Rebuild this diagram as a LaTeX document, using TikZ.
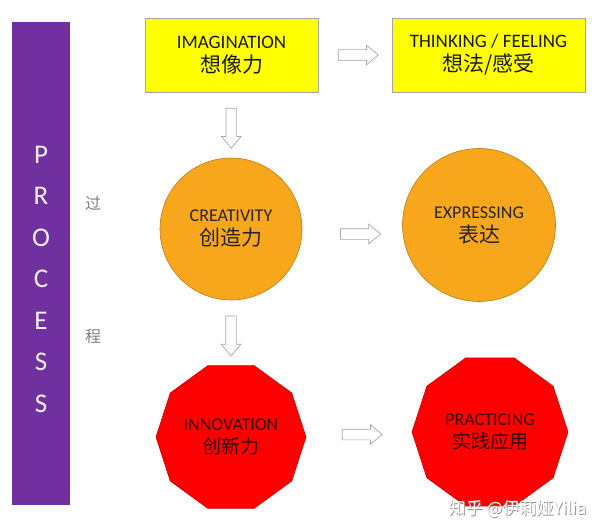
\documentclass[tikz,border=0pt]{standalone}
\usepackage{fontspec}
\setmainfont{Carlito}
\newfontfamily\cjk{Noto Sans CJK SC}
\usepackage{xcolor}
\definecolor{procpurple}{HTML}{7030A0}
\definecolor{procyellow}{HTML}{FFFF00}
\definecolor{procorange}{HTML}{F8A71D}
\definecolor{procred}{HTML}{FF0000}
\definecolor{procgrey}{HTML}{A6A6A6}
\usetikzlibrary{shapes.geometric, shapes.arrows, calc}

\begin{document}
\begin{tikzpicture}[x=1pt, y=-1pt,
  stagebox/.style={rectangle, draw=procgrey, fill=procyellow, line width=0.8pt,
    minimum height=74pt, align=center, inner sep=0pt, text=black!90,
    font=\fontsize{19}{24}\selectfont},
  stagecircle/.style={circle, draw=procorange!75!black, fill=procorange,
    line width=0.6pt, align=center, inner sep=0pt, text=black!85,
    font=\fontsize{18}{24}\selectfont},
  stagepoly/.style={regular polygon, regular polygon sides=10,
    draw=procred!80!black, fill=procred, line width=0.6pt, align=center,
    inner sep=0pt, text=black!80!red, font=\fontsize{18}{23}\selectfont},
  flowarrow/.style={single arrow, draw=procgrey, fill=white, line width=0.7pt,
    inner sep=5pt, minimum height=40pt, single arrow head extend=4.5pt,
    single arrow tip angle=80}
]
\useasboundingbox (0,0) rectangle (600,524);

% process bar
\node[rectangle, fill=procpurple, minimum width=58pt, minimum height=483pt,
      inner sep=0pt] (bar) at (41,263.5) {};
\node[align=center, text=white!92!procpurple,
      font=\fontsize{27}{41.5}\selectfont] (process) at (41,279) {P\\R\\O\\C\\E\\S\\S};
\node[text=gray, font=\cjk\fontsize{16}{16}\selectfont] (guo) at (93,203) {过};
\node[text=gray, font=\cjk\fontsize{16}{16}\selectfont] (cheng) at (93,337) {程};

% top row
\node[stagebox, minimum width=173pt] (imagination) at (231.5,55) {
  IMAGINATION\\{\cjk\fontsize{21}{24}\selectfont 想像力}};
\node[stagebox, minimum width=193pt] (thinking) at (488.5,55) {
  THINKING / FEELING\\{\cjk\fontsize{21}{24}\selectfont 想法/感受}};

% middle row
\node[stagecircle, minimum size=142pt] (creativity) at (231,229) {
  CREATIVITY\\{\cjk\fontsize{21}{24}\selectfont 创造力}};
\node[stagecircle, minimum size=153pt] (expressing) at (479,225) {
  EXPRESSING\\{\cjk\fontsize{21}{24}\selectfont 表达}};

% bottom row
\node[stagepoly, minimum size=150pt] (innovation) at (231,437) {
  INNOVATION\\{\cjk\fontsize{19}{23}\selectfont 创新力}};
\node[stagepoly, minimum size=156pt] (practicing) at (490,432) {
  PRACTICING\\{\cjk\fontsize{19}{23}\selectfont 实践应用}};

% block arrows
\node[flowarrow] (imag2think) at ($(imagination.east)!0.5!(thinking.west)$) {};
\node[flowarrow, shape border rotate=270] (imag2crea)
  at ($(imagination.south)!0.5!(creativity.north)$) {};
\node[flowarrow] (crea2expr) at ($(creativity.east)!0.5!(expressing.west)+(5,7)$) {};
\node[flowarrow, shape border rotate=270] (crea2inno)
  at ($(creativity.south)!0.5!(innovation.north)$) {};
\node[flowarrow] (inno2prac) at ($(innovation.east)!0.5!(practicing.west)$) {};

% watermark
\node[anchor=east, text=black!45, font=\cjk\fontsize{17}{17}\selectfont]
  (markshadow) at (590.8,509.8) {知乎 @伊莉娅Yilia};
\node[anchor=east, text=white, font=\cjk\fontsize{17}{17}\selectfont]
  (mark) at (590,509) {知乎 @伊莉娅Yilia};
\end{tikzpicture}
\end{document}
